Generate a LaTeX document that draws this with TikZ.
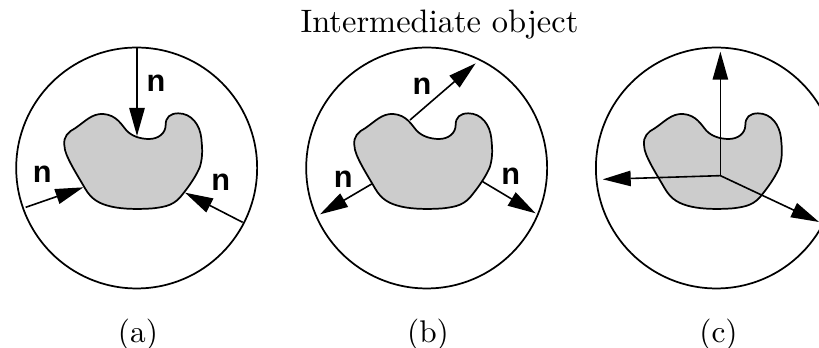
\documentclass[tikz,border=0pt]{standalone}
\usepackage{fontspec}
\usetikzlibrary{arrows.meta}
\newfontfamily\nfont{Liberation Sans}
\newfontfamily\lmten{lmroman10-regular.otf}
\definecolor{blobgray}{gray}{0.8}
\tikzset{
  ring/.style={draw=black,line width=1.3pt,fill=none},
  blobshape/.style={draw=black,line width=1.3pt,fill=blobgray,line join=round},
  vec/.style={draw=black,line width=1.2pt,-{Triangle[length=21pt,width=11.5pt]}},
  nlabel/.style={font=\nfont\fontsize{23}{23}\selectfont\bfseries,inner sep=0pt,text=black},
  caption/.style={font=\lmten\fontsize{23.5}{26}\selectfont,inner sep=0pt,anchor=base,text=black},
  title/.style={font=\lmten\fontsize{24.35}{26}\selectfont,inner sep=0pt,anchor=base,text=black},
  panel/.style={shift={(#1*0.75pt,-30*0.75pt)},x=0.25pt,y=-0.25pt}
}
\newcommand{\blobandring}[1]{%
  \node[ring,circle,minimum size=180.7pt,inner sep=0pt] (#1ring) at (410,414) {};
  \draw[blobshape] (193,345)
    .. controls (190,320) and (205,305) .. (225,295)
    .. controls (255,275) and (275,250) .. (310,252)
    .. controls (350,255) and (365,285) .. (380,302)
    .. controls (395,318) and (420,327) .. (447,327)
    .. controls (475,327) and (497,310) .. (497,285)
    .. controls (497,262) and (510,250) .. (535,250)
    .. controls (575,250) and (600,285) .. (604,325)
    .. controls (606,350) and (610,375) .. (600,410)
    .. controls (590,435) and (570,465) .. (550,490)
    .. controls (525,525) and (500,530) .. (460,535)
    .. controls (420,538) and (370,538) .. (335,530)
    .. controls (300,522) and (275,510) .. (255,475)
    .. controls (235,440) and (215,410) .. (200,375)
    .. controls (195,365) and (194,355) .. (193,345) -- cycle;
}
\begin{document}
\begin{tikzpicture}[x=0.75pt,y=-0.75pt]
\useasboundingbox (0,0) rectangle (819,348);
\clip (0,0) rectangle (819,348);
\node[title] (ttl) at (439.5,33) {Intermediate object};
\begin{scope}[panel=0]
  \blobandring{a}
  \coordinate (a1s) at (411,52); \coordinate (a1e) at (411,318);
  \coordinate (a2s) at (77,532); \coordinate (a2e) at (250,472);
  \coordinate (a3s) at (728,577); \coordinate (a3e) at (555,488);
  \draw[vec] (a1s) -- (a1e);
  \draw[vec] (a2s) -- (a2e);
  \draw[vec] (a3s) -- (a3e);
  \node[nlabel] (an1) at (468,160) {n};
  \node[nlabel] (an2) at (127,432) {n};
  \node[nlabel] (an3) at (662,458) {n};
\end{scope}
\begin{scope}[panel=290]
  \blobandring{b}
  \coordinate (b1s) at (360,270); \coordinate (b1e) at (557,100);
  \coordinate (b2s) at (245,462); \coordinate (b2e) at (90,553);
  \coordinate (b3s) at (578,455); \coordinate (b3e) at (737,550);
  \draw[vec] (b1s) -- (b1e);
  \draw[vec] (b2s) -- (b2e);
  \draw[vec] (b3s) -- (b3e);
  \node[nlabel] (bn1) at (396,170) {n};
  \node[nlabel] (bn2) at (160,448) {n};
  \node[nlabel] (bn3) at (662,440) {n};
\end{scope}
\begin{scope}[panel=579.7]
  \blobandring{c}
  \coordinate (c0) at (422,437);
  \coordinate (c1e) at (422,65);
  \coordinate (c2e) at (69,448);
  \coordinate (c3e) at (718,576);
  \draw[vec] (c0) -- (c1e);
  \draw[vec] (c0) -- (c2e);
  \draw[vec] (c0) -- (c3e);
\end{scope}
\node[caption] (cpa) at (138,343) {(a)};
\node[caption] (cpb) at (428,343) {(b)};
\node[caption] (cpc) at (718.5,343) {(c)};
\end{tikzpicture}
\end{document}
